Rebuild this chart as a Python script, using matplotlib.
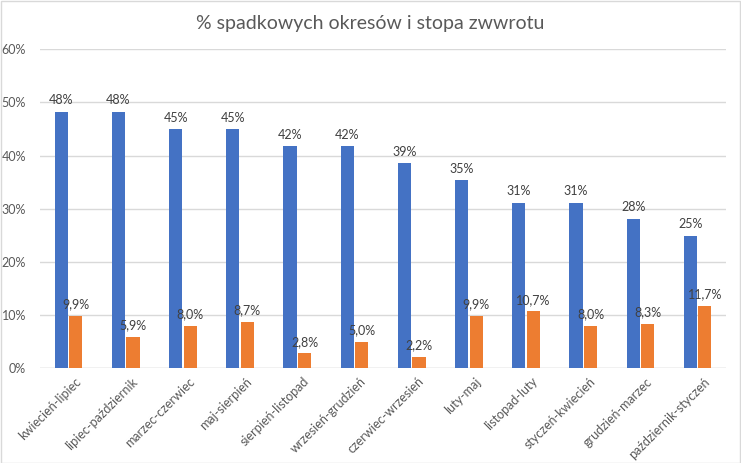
import matplotlib.pyplot as plt
import numpy as np

categories = ["kwiecień-lipiec", "lipiec-październik", "marzec-czerwiec", "maj-sierpień",
              "sierpień-listopad", "wrzesień-grudzień", "czerwiec-wrzesień", "luty-maj",
              "listopad-luty", "styczeń-kwiecień", "grudzień-marzec", "październik-styczeń"]
pct_down = [48.2, 48.2, 45.0, 45.0, 41.8, 41.8, 38.6, 35.4, 31.1, 31.1, 28.1, 24.9]
pct_down_labels = ["48%", "48%", "45%", "45%", "42%", "42%", "39%", "35%", "31%", "31%", "28%", "25%"]
returns = [9.9, 5.9, 8.0, 8.7, 2.8, 5.0, 2.2, 9.9, 10.7, 8.0, 8.3, 11.7]
returns_labels = ["9,9%", "5,9%", "8,0%", "8,7%", "2,8%", "5,0%", "2,2%", "9,9%", "10,7%", "8,0%", "8,3%", "11,7%"]
yticks = [0, 10, 20, 30, 40, 50, 60]

plt.rcParams['font.family'] = ['Lato', 'DejaVu Sans']

fig = plt.figure(figsize=(7.41, 4.63), dpi=100)
ax = fig.add_axes([0.054, 0.2045, 0.926, 0.689])

x = np.arange(len(categories))
w = 0.23
off = 0.255
b1 = ax.bar(x - off / 2, pct_down, width=w, color="#4472C4", zorder=3)
b2 = ax.bar(x + off / 2, returns, width=w, color="#ED7D31", zorder=3)

for rect, lab in zip(b1, pct_down_labels):
    ax.annotate(lab, (rect.get_x() + rect.get_width() / 2, rect.get_height()),
                xytext=(0, 4), textcoords="offset points", ha="center", va="bottom",
                fontsize=9, color="#404040")
for rect, lab in zip(b2, returns_labels):
    ax.annotate(lab, (rect.get_x() + rect.get_width() / 2, rect.get_height()),
                xytext=(0, 4), textcoords="offset points", ha="center", va="bottom",
                fontsize=9, color="#404040")

ax.set_xlim(-0.5, len(categories) - 0.5)
ax.set_ylim(0, 60)
ax.set_yticks(yticks)
ax.set_yticklabels([f"{t}%" for t in yticks], fontsize=9, color="#595959")
# labels sit a little right of the group centre, like in Excel
ax.set_xticks(x + 0.1)
ax.set_xticklabels(categories, rotation=45, ha="right", rotation_mode="anchor",
                   fontsize=9, color="#595959")
ax.tick_params(axis="both", length=0)
ax.tick_params(axis="x", pad=5)
ax.tick_params(axis="y", pad=10)
ax.grid(axis="y", color="#D9D9D9", linewidth=1, zorder=0)
for s in ax.spines.values():
    s.set_visible(False)
ax.axhline(0, color="#D9D9D9", linewidth=1, zorder=2)

fig.text(0.5, 0.95, "% spadkowych okresów i stopa zwwrotu", ha="center", va="center",
         fontsize=14, color="#595959")
fig.patches.append(plt.Rectangle((0.001, 0.001), 0.997, 0.997, transform=fig.transFigure,
                                 fill=False, edgecolor="#D9D9D9", linewidth=1))

fig.savefig("out.png", dpi=100)
